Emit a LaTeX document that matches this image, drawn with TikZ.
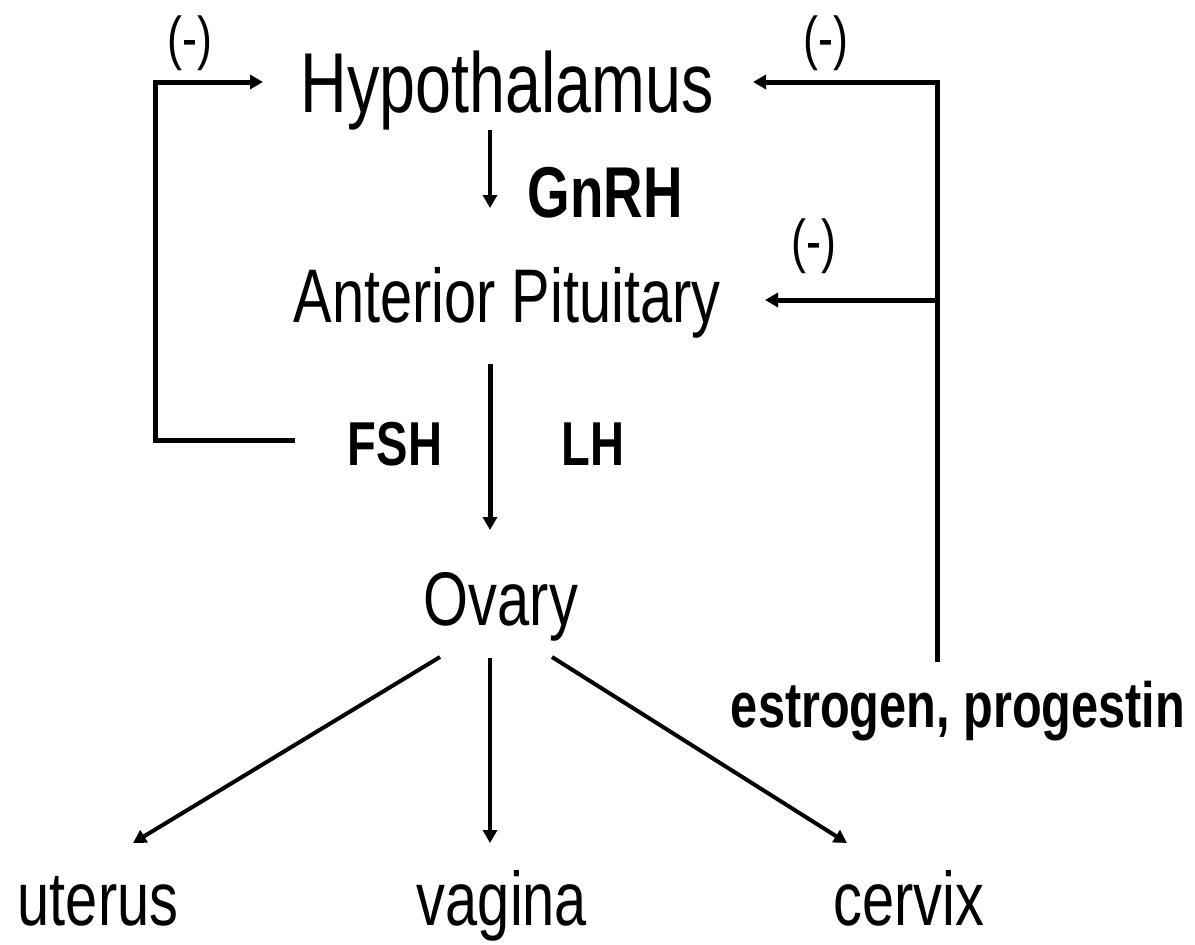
\documentclass[tikz,border=0pt]{standalone}
\usepackage{fontspec}
\setmainfont[FakeStretch=0.76]{Liberation Sans}
\usetikzlibrary{arrows.meta}

\tikzset{
  organ/.style={anchor=base, inner sep=0pt, font=\fontsize{76}{80}\selectfont},
  hormone/.style={anchor=base, inner sep=0pt, font=\fontsize{62}{66}\selectfont\bfseries},
  minus/.style={anchor=base, inner sep=0pt, font=\fontsize{59}{62}\selectfont},
  loopline/.style={line width=5pt},
  arr/.style={line width=4pt, -{Triangle[length=13pt,width=14pt]}},
}

\begin{document}
\begin{tikzpicture}[x=1pt, y=-1pt]

  \useasboundingbox (0,0) rectangle (1195,945);

  % ── Glands ────────────────────────────────────────────────────────
  \node[organ, font=\fontsize{85}{90}\selectfont] (hyp) at (507,112) {Hypothalamus};
  \node[organ] (ant) at (507,322) {Anterior Pituitary};
  \node[organ] (ova) at (501,625) {Ovary};

  % ── Hormones ──────────────────────────────────────────────────────
  \node[hormone, font=\fontsize{72}{76}\selectfont\bfseries] (gnrh) at (605,217) {GnRH};
  \node[hormone] (fsh) at (395,465) {FSH};
  \node[hormone] (lh)  at (593,465) {LH};
  \node[hormone, font=\fontsize{64}{68}\selectfont\bfseries] (est) at (958,727) {estrogen, progestin};

  % ── Negative feedback signs ───────────────────────────────────────
  \node[minus] (negfsh) at (190,58)  {(-)};
  \node[minus] (neghyp) at (826,58)  {(-)};
  \node[minus] (negant) at (814,261) {(-)};

  % ── Target organs ─────────────────────────────────────────────────
  \foreach \x/\nm/\txt in {98/ute/uterus, 502/vag/vagina, 909/cer/cervix}{
    \node[organ] (\nm) at (\x,925) {\txt};
  }

  % ── Connector ends ────────────────────────────────────────────────
  \coordinate (gnrhtop) at (490,130);
  \coordinate (gnrhtip) at (490,208);
  \coordinate (fshtop)  at (490,364);
  \coordinate (fshtip)  at (490,530);
  \coordinate (fshout)  at (295,440);
  \coordinate (hypleft) at (263,82);
  \coordinate (esttop)  at (937,662);
  \coordinate (hypright) at (753,82);
  \coordinate (branch)  at (937,300);
  \coordinate (antright) at (765,300);
  \coordinate (ovaleft) at (440,657);
  \coordinate (ovamid)  at (490,658);
  \coordinate (ovaright) at (552,657);
  \coordinate (utetip)  at (133,843);
  \coordinate (vagtip)  at (490,843);
  \coordinate (certip)  at (847,843);

  % ── Stimulation ───────────────────────────────────────────────────
  \draw[arr] (gnrhtop) -- (gnrhtip);
  \draw[arr, line width=5pt] (fshtop) -- (fshtip);

  % ── Feedback loops ────────────────────────────────────────────────
  \draw[arr, loopline] (fshout) -- ++(-140,0) |- (hypleft);
  \draw[arr, loopline] (esttop) |- (hypright);
  \draw[arr, loopline] (branch) -- (antright);

  % ── Ovary to targets ──────────────────────────────────────────────
  \draw[arr] (ovaleft) -- (utetip);
  \draw[arr] (ovamid) -- (vagtip);
  \draw[arr] (ovaright) -- (certip);

\end{tikzpicture}
\end{document}
